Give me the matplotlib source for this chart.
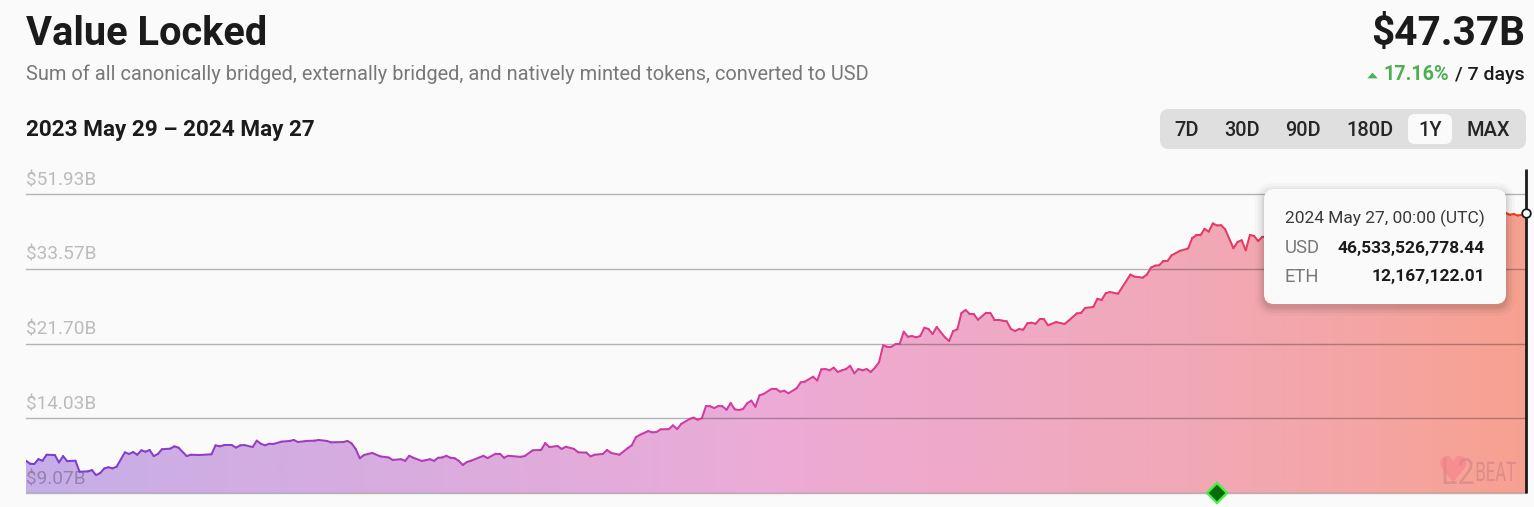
import numpy as np
import matplotlib
matplotlib.use("Agg")
import matplotlib.pyplot as plt
import matplotlib.patheffects as pe
from matplotlib.collections import LineCollection
from matplotlib.colors import LinearSegmentedColormap
from matplotlib.patches import FancyBboxPatch
from matplotlib.transforms import Affine2D, ScaledTranslation

# ---------- data ----------
days = [0,1,2,3,4,5,7,8,9,10,11,12,13,15,16,17,18,19,20,21,22,24,25,26,27,28,29,30,31,32,33,35,36,37,39,40,42,45,46,47,48,50,51,52,53,55,56,57,58,59,60,62,64,65,66,68,70,71,73,74,77,78,79,80,81,82,84,86,88,89,91,92,93,94,96,97,98,99,100,101,102,103,104,105,106,107,108,111,112,114,115,116,117,120,121,123,125,126,127,129,130,131,133,134,136,137,138,140,141,142,144,146,147,148,149,151,152,153,154,156,157,158,159,161,162,163,164,165,166,167,168,169,170,171,172,173,174,175,176,177,178,179,181,182,183,184,185,187,188,189,191,192,193,194,195,196,197,198,199,200,201,202,203,204,205,206,207,208,209,210,211,212,213,214,215,216,217,218,219,220,221,223,224,225,226,227,228,229,230,231,233,234,235,236,237,238,239,240,241,242,243,244,245,246,247,248,250,252,253,255,256,257,259,260,261,262,263,265,268,269,271,272,273,274,275,276,277,278,280,282,283,284,285,286,287,288,289,290,291,293,294,295,296,297,298,299,300,310,325,340,352,359,360,361,362,363,364]
usd_billions = [10.95,10.76,10.74,11.05,10.95,11.34,11.32,10.84,11.25,10.92,10.94,10.95,10.27,10.29,10.37,10.07,10.19,10.47,10.54,10.47,10.58,11.50,11.39,11.52,11.34,11.64,11.54,11.66,11.25,11.39,11.71,11.75,11.91,11.82,11.25,11.34,11.32,11.37,11.98,11.91,11.98,11.98,11.82,11.98,12.00,11.86,12.31,12.09,11.98,12.09,12.07,12.24,12.29,12.36,12.21,12.29,12.31,12.36,12.29,12.19,12.21,12.29,12.12,11.73,11.11,11.32,11.46,11.23,11.16,11.00,11.05,10.94,11.27,11.14,10.94,10.98,11.05,10.94,11.14,11.16,11.27,11.14,11.11,10.95,10.68,10.87,10.95,11.27,11.12,11.41,11.41,11.14,11.27,11.20,11.25,11.64,11.66,12.14,11.86,11.93,11.73,11.88,11.73,11.50,11.48,11.23,11.34,11.39,11.66,11.46,11.34,11.78,11.98,12.56,12.74,13.02,12.92,12.95,13.15,13.17,13.46,13.17,13.57,13.97,14.08,13.91,14.03,15.07,15.05,14.89,15.07,15.05,14.74,15.34,14.78,14.72,14.81,15.31,15.55,15.01,16.04,16.17,16.67,16.67,16.38,16.48,16.23,16.71,17.30,17.37,17.88,17.49,18.67,18.70,18.56,18.85,18.38,18.56,18.70,19.06,18.24,18.70,18.56,18.70,18.38,18.85,19.45,21.47,21.30,21.30,21.63,21.63,23.25,22.58,22.67,22.50,22.67,23.80,23.62,22.94,23.90,22.50,22.02,23.34,23.58,25.93,26.39,25.78,25.78,24.93,25.98,25.98,24.93,24.93,24.79,24.70,23.62,23.34,23.62,23.52,24.42,24.50,24.36,25.03,25.03,24.14,24.60,24.32,24.79,25.88,25.93,26.70,26.86,28.18,27.97,29.08,29.31,29.02,32.45,32.06,31.88,32.45,33.80,34.19,34.27,35.12,35.12,36.31,37.26,37.78,40.16,40.80,40.80,42.38,41.70,43.74,43.22,43.30,42.27,37.85,39.25,39.64,37.39,40.90,40.66,39.48,40.42,41.5,43.0,44.5,45.6,46.6,46.0,46.2,45.8,46.0,46.53]
ytick_values = [9.07, 14.03, 21.70, 33.57, 51.93]
ytick_labels = ["$9.07B", "$14.03B", "$21.70B", "$33.57B", "$51.93B"]
milestone_day = [289]
ranges = ["7D", "30D", "90D", "180D", "1Y", "MAX"]
tooltip_rows = [("USD", "46,533,526,778.44"), ("ETH", "12,167,122.01")]

W, H = 1534, 507
BG = "#fafafa"
plt.rcParams["font.family"] = ["Roboto", "DejaVu Sans"]
def px(p):
    return p * 0.72

fig = plt.figure(figsize=(W / 100, H / 100), dpi=100, facecolor=BG)
ax = fig.add_axes([26 / W, (H - 493) / H, 1500 / W, 299 / H], facecolor=BG)
ax.set_yscale("log")
ax.set_xlim(0, 364)
ax.set_ylim(9.07, 51.93)

x = np.array(days, float)
y = np.array(usd_billions, float)

# gradient fill clipped to the area under the curve
fill_cm = LinearSegmentedColormap.from_list(
    "fill", [(0, "#c6aee8"), (0.5, "#ecabd6"), (0.8, "#f2a8b4"), (1, "#f7a190")])
line_cm = LinearSegmentedColormap.from_list(
    "line", [(0, "#7a3cd4"), (0.5, "#dc3a9e"), (0.8, "#e63a62"), (1, "#f03a1c")])
poly = ax.fill_between(x, y, 9.07, facecolor="none", edgecolor="none")
grad = np.linspace(0, 1, 512).reshape(1, -1)
im = ax.imshow(grad, cmap=fill_cm, extent=(0, 364, 9.07, 51.93), aspect="auto",
               interpolation="bilinear", zorder=1)
im.set_clip_path(poly.get_paths()[0], ax.transData)
ax.set_xlim(0, 364)
ax.set_ylim(9.07, 51.93)

pts = np.column_stack([x, y])
segs = np.stack([pts[:-1], pts[1:]], axis=1)
lc = LineCollection(segs, cmap=line_cm, linewidths=1.45, zorder=3, capstyle="round")
lc.set_array((x[:-1] + x[1:]) / 2 / 364)
ax.add_collection(lc)

# axes furniture
for s in ax.spines.values():
    s.set_visible(False)
ax.set_xticks([])
ax.set_yticks(ytick_values)
ax.set_yticklabels(ytick_labels)
ax.minorticks_off()
ax.set_axisbelow(False)
ax.grid(axis="y", color="#000000", alpha=0.28, lw=1)
for gl in ax.get_ygridlines():
    gl.set_clip_on(False)
ax.tick_params(axis="y", length=0, pad=0, labelsize=px(19), labelcolor="#00000040")
for lab in ax.get_yticklabels():
    lab.set_ha("left")
    lab.set_va("bottom")
    lab.set_position((0, 0))
    lab.set_transform(ax.get_yaxis_transform() + ScaledTranslation(0, 5 / 100, fig.dpi_scale_trans))

# cursor line, end point, milestone
ax.plot([364, 364], [9.07, 60], color="#1b1b1b", lw=2.0, clip_on=False, zorder=5, solid_capstyle="butt")
ax.plot([364], [46.53], "o", ms=6.2, mfc=BG, mec="#1b1b1b", mew=1.3, clip_on=False, zorder=6)
ax.plot(milestone_day, [9.07], "D", ms=10, mfc="#046c04", mec="#48ee48", mew=1.7, clip_on=False, zorder=6)

# overlay in pixel coordinates
ov = fig.add_axes([0, 0, 1, 1], facecolor="none")
ov.set_xlim(0, W)
ov.set_ylim(H, 0)
ov.axis("off")
ov.set_zorder(10)

def rbox(x0, y0, x1, y1, r, **kw):
    p = FancyBboxPatch((x0 + r, y0 + r), x1 - x0 - 2 * r, y1 - y0 - 2 * r,
                       boxstyle=f"round,pad={r},rounding_size={r}", lw=0, **kw)
    ov.add_patch(p)
    return p

class SqueezeX(pe.AbstractPathEffect):
    """Narrow a text horizontally about a display x, as the logo's lettering is condensed."""
    def __init__(self, x0, factor):
        super().__init__()
        self.x0, self.factor = x0, factor
    def draw_path(self, renderer, gc, tpath, affine, rgbFace=None):
        t = affine + Affine2D().translate(-self.x0, 0).scale(self.factor, 1).translate(self.x0, 0)
        renderer.draw_path(gc, tpath, t, rgbFace)

DARK = "#1b1b1b"
GREY = "#787878"
ov.text(26, 45, "Value Locked", fontsize=px(39.8), fontweight="bold", color=DARK, va="baseline")
ov.text(26, 80.5, "Sum of all canonically bridged, externally bridged, and natively minted tokens, converted to USD",
        fontsize=px(20.05), color=GREY, va="baseline")
ov.text(26, 136, "2023 May 29 \u2013 2024 May 27", fontsize=px(22.5), fontweight="bold", color=DARK, va="baseline")
ov.text(1525, 45, "$47.37B", fontsize=px(40.5), fontweight="bold", color=DARK, ha="right", va="baseline")
ov.text(1525, 80, "/ 7 days", fontsize=px(19.5), fontweight="medium", color=DARK, ha="right", va="baseline")
ov.text(1449, 80, "17.16%", fontsize=px(19.8), fontweight="bold", color="#4caf50", ha="right", va="baseline")
tri = matplotlib.path.Path([(-1, -0.55), (1, -0.55), (0, 0.55), (-1, -0.55)])
ov.plot([1371.5], [74.5], marker=tri, ms=7.5, color="#4caf50", mew=0)

# range selector
rbox(1160, 109, 1526, 149, 9, facecolor="#dfdfdf")
rbox(1408, 114, 1452, 144, 7, facecolor=BG)
for lab, cx in zip(ranges, [1187, 1242, 1303, 1370, 1430, 1488]):
    ov.text(cx, 135.5, lab, fontsize=px(20), fontweight="medium", color="#262626", ha="center", va="baseline")

# watermark
ov.text(1453, 482, "\u2665", fontsize=px(36), color="#f8858f", family=["DejaVu Sans"], ha="center", va="baseline", alpha=0.75)
ov.text(1441, 484, "L2", fontsize=px(36), color="#d98a8a", va="baseline", alpha=0.8,
        path_effects=[SqueezeX(1441, 0.85)])
ov.text(1516, 481, "BEAT", fontsize=px(27), color="#d98a8a", ha="right", va="baseline", alpha=0.9,
        path_effects=[SqueezeX(1516, 0.62)])

# tooltip
for g, a in zip([9, 6, 3.5, 1.5], [0.025, 0.035, 0.045, 0.06]):
    rbox(1264 - g, 189 - g + 3, 1506 + g, 304 + g + 3, 10 + g, facecolor="#000000", alpha=a)
rbox(1264, 189, 1506, 304, 10, facecolor=BG)
ov.text(1285, 223, "2024 May 27, 00:00 (UTC)", fontsize=px(17.4), color="#3a3a3a", va="baseline")
for (name, val), by in zip(tooltip_rows, [253, 281.5]):
    ov.text(1285, by, name, fontsize=px(18.5), color=GREY, va="baseline")
    ov.text(1485, by, val, fontsize=px(17.4), fontweight="bold", color=DARK, ha="right", va="baseline")

fig.savefig("out.png", dpi=100, facecolor=BG)
